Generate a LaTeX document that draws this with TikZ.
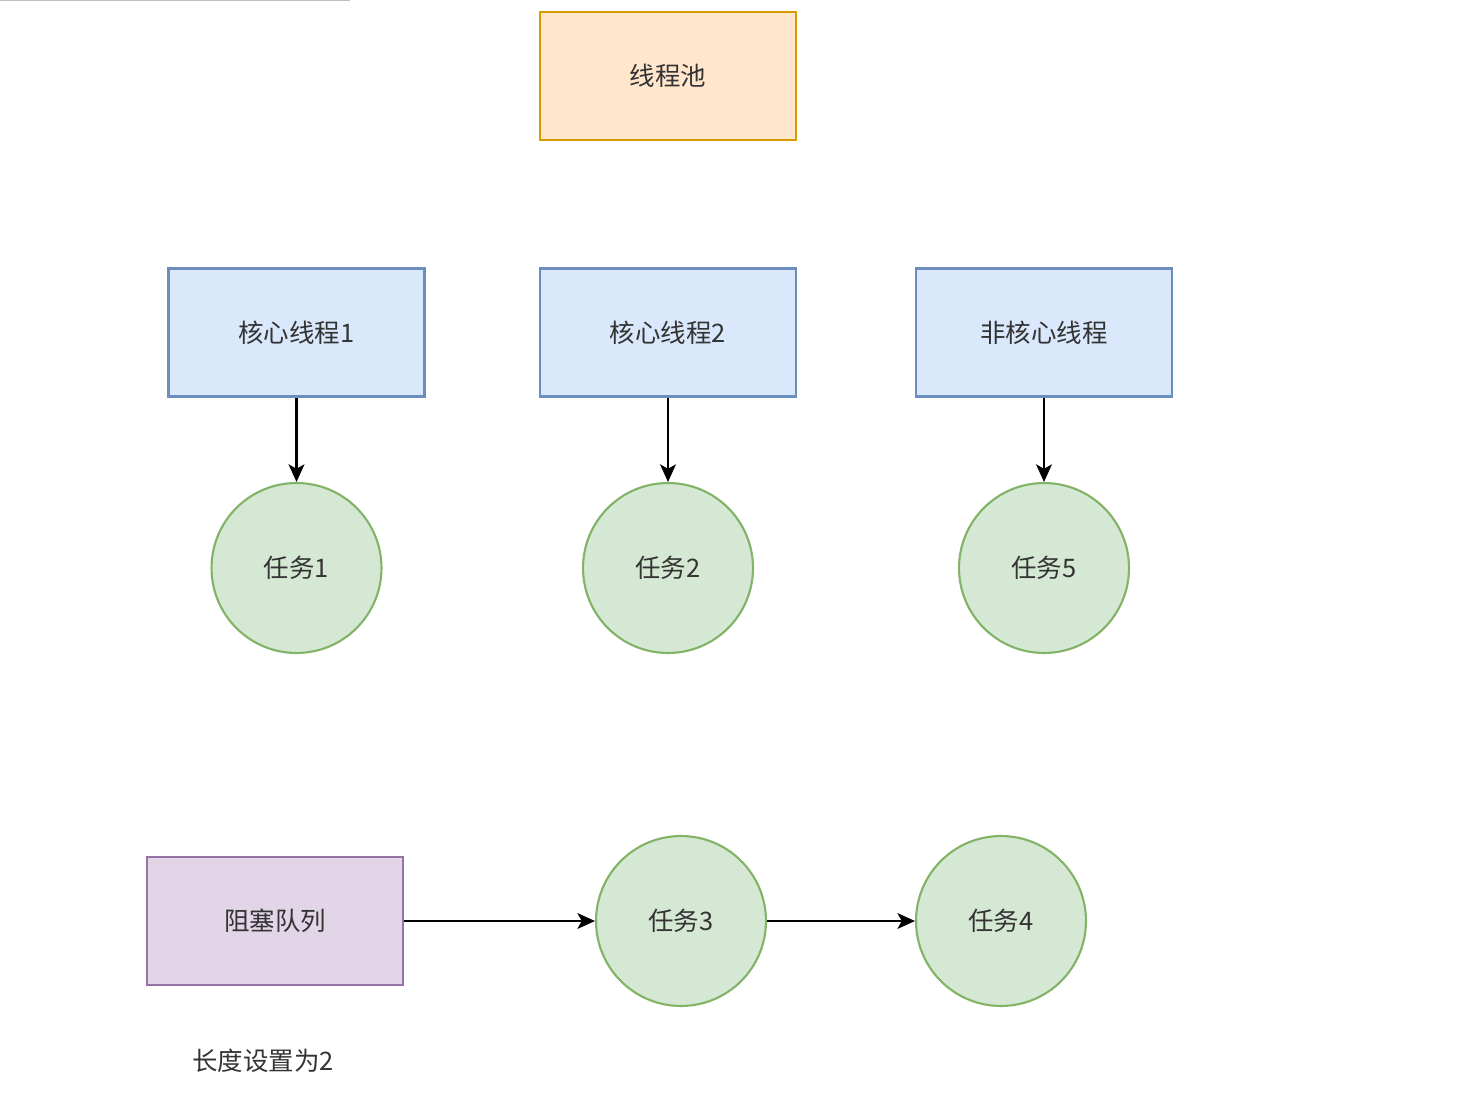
\documentclass[tikz,border=0pt]{standalone}
\usepackage{fontspec}
\setmainfont{Noto Sans CJK SC}
\usepackage{tikz}
\usetikzlibrary{arrows.meta}
\definecolor{poolfill}{HTML}{FFE6CC}
\definecolor{pooldraw}{HTML}{D79B00}
\definecolor{thrfill}{HTML}{DAE8FC}
\definecolor{thrdraw}{HTML}{6C8EBF}
\definecolor{taskfill}{HTML}{D5E8D4}
\definecolor{taskdraw}{HTML}{82B366}
\definecolor{queuefill}{HTML}{E1D5E7}
\definecolor{queuedraw}{HTML}{9673A6}
\definecolor{txt}{HTML}{333333}

\begin{document}
\begin{tikzpicture}[x=0.02cm, y=-0.02cm,
  box/.style={rectangle, minimum width=5.12cm, minimum height=2.56cm, line width=1.2pt, text=txt, font=\fontsize{14.5}{17}\selectfont},
  task/.style={circle, minimum size=3.4cm, inner sep=0pt, line width=1.2pt, fill=taskfill, draw=taskdraw, text=txt, font=\fontsize{14.5}{17}\selectfont},
  flow/.style={-{Stealth[length=10pt,width=9pt,inset=2.5pt]}, line width=1.2pt}]

%---------------------------------------
% Page frame
%---------------------------------------
\useasboundingbox (0,0) rectangle (1483,1097);
\draw[black!25, line width=1pt] (0,0.5) -- (350,0.5);

%====================================================
% Pool and threads
%====================================================
\node[box, fill=poolfill, draw=pooldraw] (pool) at (668,76) {线程池};

\node[box, fill=thrfill, draw=thrdraw] (core1) at (296.5,332.5) {核心线程1};
\node[box, fill=thrfill, draw=thrdraw] (core2) at (668,332.5) {核心线程2};
\node[box, fill=thrfill, draw=thrdraw] (extra) at (1044,332.5) {非核心线程};

% ---- Running tasks ----
\node[task] (task1) at (296.5,568) {任务1};
\node[task] (task2) at (668,568) {任务2};
\node[task] (task5) at (1044,568) {任务5};

\draw[flow] (core1) -- (task1);
\draw[flow] (core2) -- (task2);
\draw[flow] (extra) -- (task5);

%====================================================
% Blocking queue
%====================================================
\node[box, fill=queuefill, draw=queuedraw] (queue) at (275,921) {阻塞队列};
\node[task] (task3) at (681,921) {任务3};
\node[task] (task4) at (1001,921) {任务4};

\draw[flow] (queue) -- (task3);
\draw[flow] (task3) -- (task4);

\node[text=txt, font=\fontsize{14.5}{17}\selectfont] (qlen) at (263,1061) {长度设置为2};

\end{tikzpicture}
\end{document}
